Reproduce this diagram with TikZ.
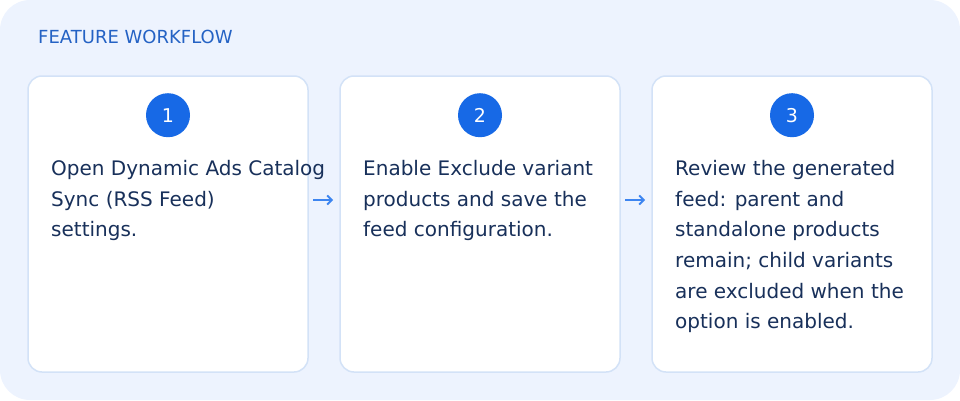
\documentclass[tikz,border=0pt]{standalone}
\usepackage{fontspec}
\setmainfont{DejaVu Sans}
\usetikzlibrary{positioning, arrows.meta, calc}
\definecolor{bgblue}{HTML}{EDF3FE}
\definecolor{cardline}{HTML}{D3E2F7}
\definecolor{badgeblue}{HTML}{1769E6}
\definecolor{titleblue}{HTML}{2462C4}
\definecolor{textnavy}{HTML}{18305A}
\definecolor{arrowblue}{HTML}{3D85F0}
\tikzset{%
    cardsty/.style={
        rounded corners=14pt,
        draw=cardline,
        line width=1.5pt,
        fill=white,
        inner sep=0pt,
        outer sep=0pt,
        minimum width=280pt,
        minimum height=296pt,
    },
    badgesty/.style={
        circle,
        fill=badgeblue,
        inner sep=0pt,
        minimum size=44pt,
        text=white,
        font=\fontsize{19}{19}\selectfont,
    },
    txtsty/.style={
        inner sep=0pt,
        align=left,
        text=textnavy,
        font=\fontsize{20}{30.7}\selectfont,
    },
    titlesty/.style={
        inner sep=0pt,
        text=titleblue,
        font=\fontsize{18}{20}\selectfont,
    },
    flowsty/.style={
        draw=arrowblue,
        line width=1.8pt,
        -{Straight Barb[length=4.5pt,width=9pt]},
        shorten <=5pt,
        shorten >=7pt,
    },
}
\begin{document}
\begin{tikzpicture}[x=1pt,y=1pt]

% background panel
\fill[bgblue, rounded corners=30pt] (0,0) rectangle (960,400);
\useasboundingbox (0,0) rectangle (960,400);

\node (title) [titlesty, anchor=base west] at (38,356) {FEATURE WORKFLOW};

% step cards
\node (c1) [cardsty, anchor=north west] at (28,324) {};
\node (c2) [cardsty, right=32pt of c1] {};
\node (c3) [cardsty, right=32pt of c2] {};

% number badges
\node (b1) [badgesty, below=17pt of c1.north] {1};
\node (b2) [badgesty, below=17pt of c2.north] {2};
\node (b3) [badgesty, below=17pt of c3.north] {3};

% step texts
\node (t1) [txtsty, below right=84pt and 23pt of c1.north west]
     {Open Dynamic Ads Catalog\\Sync (RSS Feed)\\settings.};
\node (t2) [txtsty, below right=84pt and 23pt of c2.north west]
     {Enable Exclude variant\\products and save the\\feed configuration.};
\node (t3) [txtsty, below right=84pt and 23pt of c3.north west]
     {Review the generated\\feed: parent and\\standalone products\\remain; child variants\\are excluded when the\\option is enabled.};

% flow arrows
\draw[flowsty] ([yshift=24pt]c1.east) -- ([yshift=24pt]c2.west);
\draw[flowsty] ([yshift=24pt]c2.east) -- ([yshift=24pt]c3.west);

\end{tikzpicture}
\end{document}
